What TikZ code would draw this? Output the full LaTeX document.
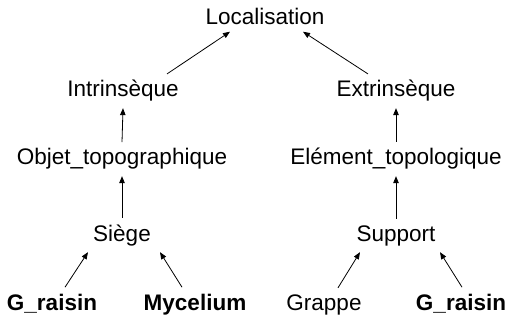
\documentclass[tikz,border=0pt]{standalone}
\usepackage{fontspec}
\setmainfont{Liberation Sans}
\usetikzlibrary{arrows.meta}
\begin{document}
\begin{tikzpicture}[x=1pt,y=-1pt,
  lbl/.style={anchor=base,inner sep=6.5pt,outer sep=0pt,font=\fontsize{22.5}{26}\selectfont},
  blbl/.style={lbl,font=\fontsize{22.5}{26}\selectfont\bfseries},
  arr/.style={-{Triangle[length=7pt,width=5.5pt]},line width=0.8pt}]
\useasboundingbox (0,0) rectangle (513,320);
\node[lbl] (loc) at (265,25) {Localisation};
\node[lbl] (intr) at (123,97) {Intrinsèque};
\node[lbl] (extr) at (396,97) {Extrinsèque};
\node[lbl] (obj) at (122,165) {Objet\_topographique};
\node[lbl] (elem) at (396,165) {Elément\_topologique};
\node[lbl] (siege) at (122,241) {Siège};
\node[lbl] (supp) at (396,241) {Support};
\node[blbl] (g1) at (52,310) {G\_raisin};
\node[blbl] (myc) at (195,310) {Mycelium};
\node[lbl] (grappe) at (324,310) {Grappe};
\node[blbl] (g2) at (461,310) {G\_raisin};
\draw[arr] ([xshift=44pt]intr.north) -- ([xshift=-35pt]loc.south);
\draw[arr] ([xshift=-28pt]extr.north) -- ([xshift=38pt]loc.south);
\draw[arr] (obj.north) -- (intr.south);
\draw[arr] (elem.north) -- (extr.south);
\draw[arr] (siege.north) -- (obj.south);
\draw[arr] (supp.north) -- (elem.south);
\draw[arr] ([xshift=13pt]g1.north) -- ([xshift=-34pt]siege.south);
\draw[arr] ([xshift=-13pt]myc.north) -- ([xshift=38pt]siege.south);
\draw[arr] ([xshift=14pt]grappe.north) -- ([xshift=-36pt]supp.south);
\draw[arr] ([xshift=1pt]g2.north) -- ([xshift=44pt]supp.south);
\end{tikzpicture}
\end{document}
